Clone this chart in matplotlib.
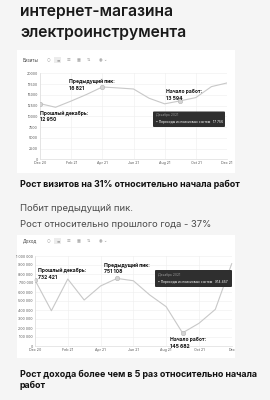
import matplotlib
matplotlib.use("Agg")
import matplotlib.pyplot as plt
from matplotlib.patches import Rectangle, FancyBboxPatch

plt.rcParams['font.family'] = ['Inter', 'DejaVu Sans']

# ---------------- data ----------------
months = list(range(13))  # Dec 20 .. Dec 21
visit_xticks = [0, 2, 4, 6, 8, 10, 12]
visit_xlabels = ["Dec 20", "Feb 21", "Apr 21", "Jun 21", "Aug 21", "Oct 21", "Dec 21"]
visits = [12950, 12100, 13550, 15100, 16821, 16600, 16350, 14200, 12900, 13594, 14350, 16900, 17756]
visit_yticks = [0, 2500, 5000, 7500, 10000, 12500, 15000, 17500, 20000]

income_xlabels = ["Dec 20", "Feb 21", "Apr 21", "Jun 21", "Aug 21", "Oct 21", "Dec"]
income = [732421, 392000, 744000, 511000, 667000, 751108, 725000, 567000, 437000, 145682, 252000, 407000, 914457]
income_yticks = [0, 100000, 200000, 300000, 400000, 500000, 600000, 700000, 800000, 900000, 1000000]

visit_marks = [(0, "Прошлый декабрь:", "12 950"), (4, "Предыдущий пик:", "16 821"), (9, "Начало работ:", "13 594")]
income_marks = [(0, "Прошлый декабрь:", "732 421"), (5, "Предыдущий пик:", "751 108"), (9, "Начало работ:", "145 682")]

W, H = 270, 400
fig = plt.figure(figsize=(2.7, 4.0), dpi=100)
fig.patch.set_facecolor("#f5f5f5")

def fx(px):
    return px / W

def fy(py):
    return 1 - py / H

# white panels
for (x0, y0, x1, y1) in [(17, 50, 235, 173), (17, 235, 235, 358)]:
    fig.patches.append(Rectangle((fx(x0), fy(y1)), fx(x1 - x0), (y1 - y0) / H,
                                 transform=fig.transFigure, facecolor="white",
                                 edgecolor="none", zorder=-5))

# titles
fig.text(fx(20), fy(15.7), "интернет-магазина", fontsize=11.3, fontweight="semibold",
         color="#1a1a1a", va="baseline", ha="left")
fig.text(fx(20), fy(37.3), "электроинструмента", fontsize=11.3, fontweight="semibold",
         color="#1a1a1a", va="baseline", ha="left")

def toolbar(y, label):
    fig.text(fx(23), fy(y), label, fontsize=3.2, color="#444444", va="center", ha="left")
    icons = ["○", "≡", "☰", "▦", "⇅", "◉ ⌄"]
    xs = [47, 57, 67, 77, 87, 99]
    fig.patches.append(Rectangle((fx(53.5), fy(y + 3)), fx(7), 6 / H, transform=fig.transFigure,
                                 facecolor="#ececec", edgecolor="none", zorder=-4))
    for ic, xx in zip(icons, xs):
        fig.text(fx(xx), fy(y), ic, fontsize=3, color="#999999", va="center", ha="left",
                 family=["DejaVu Sans"])

toolbar(60, "Визиты")
toolbar(241, "Доход")

def style_axes(ax):
    ax.set_facecolor("white")
    for s in ["top", "right"]:
        ax.spines[s].set_visible(False)
    ax.spines["left"].set_color("#dddddd")
    ax.spines["bottom"].set_color("#dddddd")
    ax.spines["left"].set_linewidth(0.5)
    ax.spines["bottom"].set_linewidth(0.5)
    ax.grid(True, color="#eeeeee", linewidth=0.4)
    ax.tick_params(axis="both", length=0, labelsize=2.6, colors="#555555", pad=1.5)

# ---------------- chart 1 ----------------
ax1 = fig.add_axes([fx(40), fy(159.3), fx(187), 86 / H])
style_axes(ax1)
ax1.plot(months, visits, color="#c8c8c8", linewidth=0.8, zorder=3)
for i, _, _ in visit_marks:
    ax1.plot(months[i], visits[i], "o", markersize=3.2, markerfacecolor="#d4d4d4",
             markeredgecolor="#b5b5b5", markeredgewidth=0.4, zorder=4)
ax1.set_xlim(0, 12)
ax1.set_ylim(0, 20000)
ax1.set_xticks(visit_xticks)
ax1.set_xticklabels(visit_xlabels)
ax1.set_yticks(visit_yticks)
ax1.set_yticklabels([str(v) for v in visit_yticks])

offsets1 = {0: (0, -7), 4: (-33, 8), 9: (-14, 12)}
for i, t1, t2 in visit_marks:
    dx, dy = offsets1[i]
    ax1.annotate(t1 + "\n" + t2, (months[i], visits[i]), xytext=(dx, dy),
                 textcoords="offset pixels", fontsize=3.6, fontweight="bold",
                 color="#111111", va="top", ha="left", linespacing=1.4, zorder=5,
                 annotation_clip=False)

# tooltip chart 1
fig.patches.append(FancyBboxPatch((fx(153), fy(127)), fx(72), 15.5 / H,
                                  boxstyle="round,pad=0,rounding_size=0.003",
                                  transform=fig.transFigure, facecolor="#2f2f2f",
                                  edgecolor="none", zorder=10))
fig.text(fx(156), fy(114.5), "Декабрь 2021", fontsize=2.4, color="#999999", va="center",
         ha="left", zorder=11)
fig.text(fx(156), fy(121.5), "• Переходы из поисковых систем   17 756", fontsize=2.4,
         color="#ffffff", va="center", ha="left", zorder=11)

# ---------------- chart 2 ----------------
ax2 = fig.add_axes([fx(35), fy(346), fx(196.7), 90 / H])
style_axes(ax2)
ax2.plot(months, income, color="#c8c8c8", linewidth=0.8, zorder=3, clip_on=False)
for i, _, _ in income_marks:
    ax2.plot(months[i], income[i], "o", markersize=3.2, markerfacecolor="#d4d4d4",
             markeredgecolor="#b5b5b5", markeredgewidth=0.4, zorder=4)
ax2.set_xlim(0, 12)
ax2.set_ylim(0, 1000000)
ax2.set_xticks(visit_xticks)
ax2.set_xticklabels(income_xlabels)
ax2.set_yticks(income_yticks)
ax2.set_yticklabels([f"{v:,}".replace(",", " ") for v in income_yticks])

offsets2 = {0: (3, 12), 5: (-13, 16), 9: (-13, -4)}
for i, t1, t2 in income_marks:
    dx, dy = offsets2[i]
    ax2.annotate(t1 + "\n" + t2, (months[i], income[i]), xytext=(dx, dy),
                 textcoords="offset pixels", fontsize=3.6, fontweight="bold",
                 color="#111111", va="top", ha="left", linespacing=1.4, zorder=5,
                 annotation_clip=False)

fig.patches.append(FancyBboxPatch((fx(155), fy(287)), fx(77), 17 / H,
                                  boxstyle="round,pad=0,rounding_size=0.003",
                                  transform=fig.transFigure, facecolor="#2f2f2f",
                                  edgecolor="none", zorder=10))
fig.text(fx(158), fy(275), "Декабрь 2021", fontsize=2.4, color="#999999", va="center",
         ha="left", zorder=11)
fig.text(fx(158), fy(282), "• Переходы из поисковых систем   914 457", fontsize=2.4,
         color="#ffffff", va="center", ha="left", zorder=11)

# ---------------- captions ----------------
fig.text(fx(20), fy(187.3), "Рост визитов на 31% относительно начала работ", fontsize=6.4,
         fontweight="bold", color="#111111", va="baseline", ha="left")
fig.text(fx(20), fy(210.7), "Побит предыдущий пик.", fontsize=6.8, color="#4a4a4a",
         va="baseline", ha="left")
fig.text(fx(20), fy(227.3), "Рост относительно прошлого года - 37%", fontsize=6.8,
         color="#4a4a4a", va="baseline", ha="left")
fig.text(fx(20), fy(377.3), "Рост дохода более чем в 5 раз относительно начала", fontsize=6.4,
         fontweight="bold", color="#111111", va="baseline", ha="left")
fig.text(fx(20), fy(388), "работ", fontsize=6.4,
         fontweight="bold", color="#111111", va="baseline", ha="left")

fig.savefig("out.png", dpi=100, facecolor=fig.get_facecolor())
